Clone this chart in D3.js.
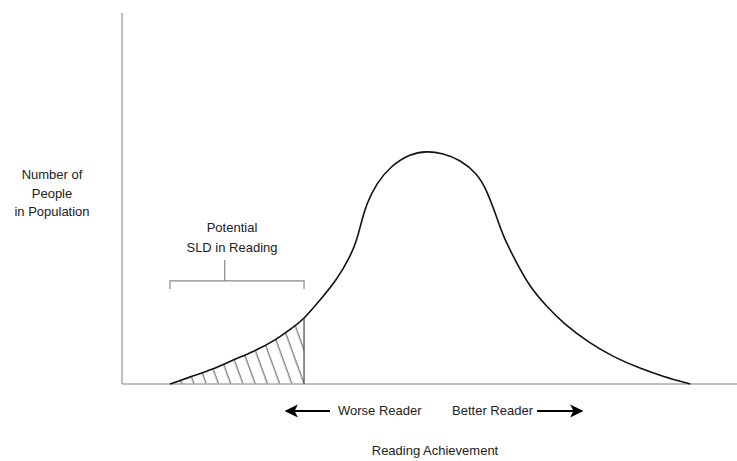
<!DOCTYPE html>
<html>
<head>
<meta charset="utf-8">
<script src="https://cdn.jsdelivr.net/npm/d3@7"></script>
<style>
  body { margin: 0; background: #fff; }
  svg text { font-family: "Liberation Sans", Arial, sans-serif; font-size: 13px; fill: #222; }
</style>
</head>
<body>
<svg id="canvas" width="737" height="461"></svg>
<script>
// Reading achievement (x) and number of people (y)
var achievement = [7.8, 11.6, 14.8, 18.1, 21.3, 24.6, 27.9, 29.5, 32.2, 34.9, 37.1, 38.2, 39.0, 39.8, 41.4, 43.6, 46.8, 49.5, 52.2, 55.0, 57.7, 59.3, 60.9, 62.0, 64.2, 66.3, 69.1, 71.8, 76.1, 79.9, 84.2, 88.0, 92.4];
var people = [0, 2.2, 4.0, 6.5, 8.7, 11.4, 15.4, 17.4, 22.6, 28.0, 34.3, 38.8, 44.2, 48.7, 54.1, 58.6, 62.0, 62.8, 62.2, 60.4, 56.8, 52.3, 45.1, 39.7, 32.5, 26.2, 20.8, 16.3, 10.9, 7.3, 4.2, 2.0, 0];

// Cutoff for potential SLD in reading
var cutoff = 29.6;

var yLabel = ['Number of', 'People', 'in Population'];
var bracketLabel = ['Potential', 'SLD in Reading'];
var xLabel = 'Reading Achievement';
var worseLabel = 'Worse Reader';
var betterLabel = 'Better Reader';

var margin = { top: 13, right: 0, bottom: 77, left: 122 };
var canvas = d3.select('#canvas');
var width = 737, height = 461;

var x = d3.scaleLinear().domain([0, 100]).range([margin.left, width - margin.right]);
var y = d3.scaleLinear().domain([0, 100]).range([height - margin.bottom, margin.top]);

var points = achievement.map(function (a, i) { return [a, people[i]]; });

// Hatch pattern
var defs = canvas.append('defs');
var pattern = defs.append('pattern')
  .attr('id', 'hatch')
  .attr('patternUnits', 'userSpaceOnUse')
  .attr('width', 11.5)
  .attr('height', 11.5)
  .attr('patternTransform', 'rotate(-20)');
pattern.append('line')
  .attr('x1', 5).attr('y1', 0)
  .attr('x2', 5).attr('y2', 11.5)
  .attr('stroke', '#555')
  .attr('stroke-width', 1);

defs.append('clipPath')
  .attr('id', 'sld-clip')
  .append('rect')
  .attr('x', x(0))
  .attr('y', y(100))
  .attr('width', x(cutoff) - x(0))
  .attr('height', y(0) - y(100));

var curve = d3.curveBasis;

var area = d3.area()
  .x(function (d) { return x(d[0]); })
  .y0(y(0))
  .y1(function (d) { return y(d[1]); })
  .curve(curve);

var line = d3.line()
  .x(function (d) { return x(d[0]); })
  .y(function (d) { return y(d[1]); })
  .curve(curve);

canvas.append('path')
  .datum(points)
  .attr('d', area)
  .attr('fill', 'url(#hatch)')
  .attr('clip-path', 'url(#sld-clip)');

// Axes (no ticks)
canvas.append('line')
  .attr('x1', x(0)).attr('y1', y(0))
  .attr('x2', x(0)).attr('y2', y(100))
  .attr('stroke', '#aaa').attr('stroke-width', 1.5);
canvas.append('line')
  .attr('x1', x(0)).attr('y1', y(0))
  .attr('x2', x(100)).attr('y2', y(0))
  .attr('stroke', '#aaa').attr('stroke-width', 1.5);

var path = canvas.append('path')
  .datum(points)
  .attr('d', line)
  .attr('fill', 'none')
  .attr('stroke', '#111')
  .attr('stroke-width', 1.6);

// Cutoff edge: find curve height at cutoff from the drawn path
var node = path.node();
var lo = 0, hi = node.getTotalLength();
for (var i = 0; i < 30; i++) {
  var mid = (lo + hi) / 2;
  if (node.getPointAtLength(mid).x < x(cutoff)) lo = mid; else hi = mid;
}
var cutY = node.getPointAtLength(lo).y;

canvas.append('line')
  .attr('x1', x(cutoff)).attr('y1', y(0))
  .attr('x2', x(cutoff)).attr('y2', cutY)
  .attr('stroke', '#444').attr('stroke-width', 1.2);

// Bracket
var bx0 = x(achievement[0]), bx1 = x(cutoff), bStem = x(16.7);
var bY = y(27.8), bEnd = y(25.6), bTop = y(33.4);
canvas.append('path')
  .attr('d', 'M' + bx0 + ',' + bEnd + 'V' + bY + 'H' + bx1 + 'V' + bEnd + 'M' + bStem + ',' + bY + 'V' + bTop)
  .attr('fill', 'none')
  .attr('stroke', '#888')
  .attr('stroke-width', 1.2);

canvas.selectAll('.bracket-label')
  .data(bracketLabel)
  .enter()
  .append('text')
  .attr('class', 'bracket-label')
  .attr('x', 232)
  .attr('y', function (d, i) { return 232 + i * 20; })
  .attr('text-anchor', 'middle')
  .text(function (d) { return d; });

// Y label
canvas.selectAll('.y-label')
  .data(yLabel)
  .enter()
  .append('text')
  .attr('class', 'y-label')
  .attr('x', 52)
  .attr('y', function (d, i) { return 179 + i * 18.5; })
  .attr('text-anchor', 'middle')
  .text(function (d) { return d; });

// X label
canvas.append('text')
  .attr('x', 435)
  .attr('y', 455)
  .attr('text-anchor', 'middle')
  .text(xLabel);

// Direction arrows
defs.append('marker')
  .attr('id', 'arrow')
  .attr('viewBox', '0 0 10 10')
  .attr('refX', 9).attr('refY', 5)
  .attr('markerWidth', 6).attr('markerHeight', 6)
  .attr('markerUnits', 'strokeWidth')
  .attr('orient', 'auto')
  .append('path')
  .attr('d', 'M0,0L10,5L0,10L2.5,5Z')
  .attr('fill', '#000');

var arrowY = 411;
canvas.append('line')
  .attr('x1', 330).attr('y1', arrowY)
  .attr('x2', 286).attr('y2', arrowY)
  .attr('stroke', '#000').attr('stroke-width', 2.2)
  .attr('marker-end', 'url(#arrow)');
canvas.append('line')
  .attr('x1', 537).attr('y1', arrowY)
  .attr('x2', 582).attr('y2', arrowY)
  .attr('stroke', '#000').attr('stroke-width', 2.2)
  .attr('marker-end', 'url(#arrow)');

canvas.append('text')
  .attr('x', 338).attr('y', 415)
  .text(worseLabel);
canvas.append('text')
  .attr('x', 533).attr('y', 415)
  .attr('text-anchor', 'end')
  .text(betterLabel);
</script>
</body>
</html>
